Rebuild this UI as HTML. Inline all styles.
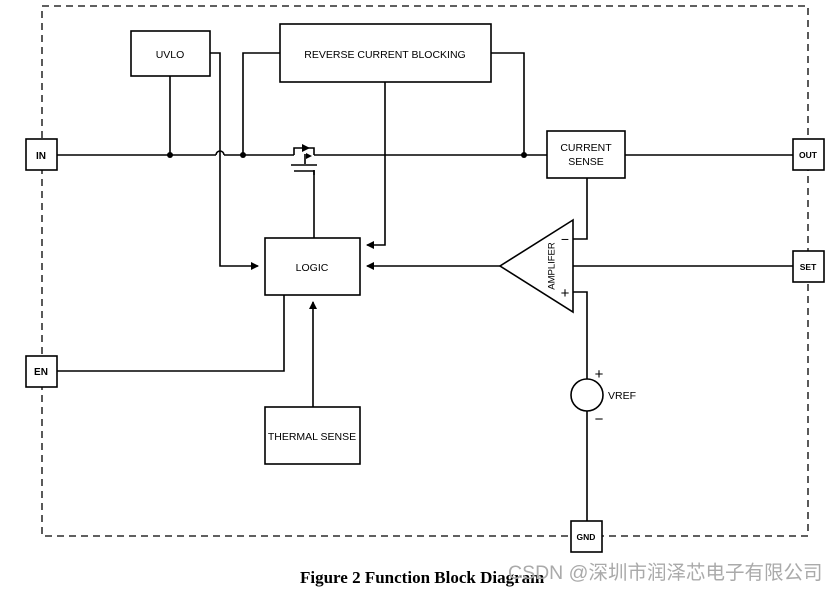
<!DOCTYPE html>
<html><head><style>body{margin:0;background:#fff}svg{display:block}</style></head><body>
<svg width="837" height="592" viewBox="0 0 837 592" xmlns="http://www.w3.org/2000/svg" font-family="Liberation Sans, sans-serif">
<defs><marker id="a" markerWidth="8" markerHeight="8" refX="7" refY="4" orient="auto" markerUnits="userSpaceOnUse"><path d="M0,0L8,4L0,8z" fill="#000"/></marker></defs>
<rect x="42" y="6" width="766" height="530" fill="none" stroke="#000" stroke-width="1.3" stroke-dasharray="7,5"/>
<g fill="#fff" stroke="#000" stroke-width="1.6">
<rect x="26" y="139" width="31" height="31"/><rect x="793" y="139" width="31" height="31"/>
<rect x="793" y="251" width="31" height="31"/><rect x="26" y="356" width="31" height="31"/>
<rect x="571" y="521" width="31" height="31"/>
<rect x="131" y="31" width="79" height="45"/><rect x="280" y="24" width="211" height="58"/>
<rect x="547" y="131" width="78" height="47"/><rect x="265" y="238" width="95" height="57"/>
<rect x="265" y="407" width="95" height="57"/>
</g>
<g fill="none" stroke="#000" stroke-width="1.6">
<path d="M57,155H216M224,155H294M314,155H547M625,155H793"/>
<path d="M216,155a4,4 0 0 1 8,0"/>
<path d="M170,76V155M210,53H220V266H258" marker-end="url(#a)"/>
<path d="M243,155V53H280M491,53H524V155"/>
<path d="M385,82V245H367" marker-end="url(#a)"/>
<path d="M314,170V238"/>
<path d="M294,155V148H314V155M291,165H317M294,171H314V175M305,164V154"/>
<path d="M573,220L500,266L573,312Z"/>
<path d="M573,239H587V178M573,292H587V379M587,411V521M573,266H793"/>
<path d="M500,266H367" marker-end="url(#a)"/>
<path d="M57,371H284V295M313,407V302" marker-end="url(#a)"/>
<circle cx="587" cy="395" r="16"/>
</g>
<path d="M302,144l8,4l-8,4z M306,153l6,3l-6,3z" fill="#000"/>
<g fill="#000"><circle cx="170" cy="155" r="3"/><circle cx="243" cy="155" r="3"/><circle cx="524" cy="155" r="3"/></g>
<g font-size="10.5" text-anchor="middle" fill="#000">
<text x="41" y="159" font-weight="bold" font-size="10">IN</text><text x="808" y="158" font-weight="bold" font-size="8.5">OUT</text>
<text x="808" y="270" font-weight="bold" font-size="8.5">SET</text><text x="41" y="375" font-weight="bold" font-size="10">EN</text>
<text x="586" y="540" font-weight="bold" font-size="8.5">GND</text>
<text x="170" y="58">UVLO</text><text x="385" y="58">REVERSE CURRENT BLOCKING</text>
<text x="586" y="151">CURRENT</text><text x="586" y="165">SENSE</text>
<text x="312" y="271">LOGIC</text><text x="312" y="440">THERMAL SENSE</text>
<text x="622" y="399">VREF</text>
<text transform="translate(552,266) rotate(-90)" font-size="9.5" dominant-baseline="middle">AMPLIFER</text>
<text x="565" y="244" font-size="14">−</text><text x="565" y="298" font-size="15">+</text>
<text x="599" y="379" font-size="15">+</text><text x="599" y="424" font-size="15">−</text>
</g>
<text x="300" y="583" font-family="Liberation Serif, serif" font-weight="bold" font-size="17">Figure 2 Function Block Diagram</text>
<text x="508" y="579" font-family="Liberation Sans, Noto Sans CJK SC, sans-serif" font-size="19.5" fill="#aaa">CSDN @深圳市润泽芯电子有限公司</text>
</svg>
</body></html>
